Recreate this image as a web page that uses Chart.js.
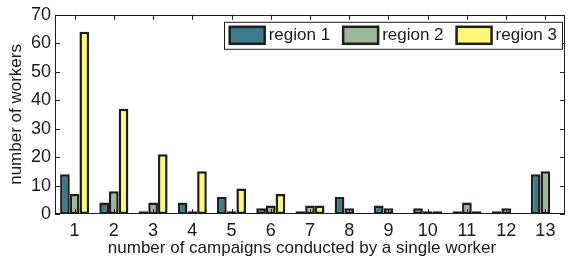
<!DOCTYPE html>
<html>
<head>
<meta charset="utf-8">
<script src="https://cdn.jsdelivr.net/npm/chart.js@4"></script>
<style>
  html, body { margin: 0; padding: 0; background: #fff; }
  #wrap { width: 568px; height: 257px; }
</style>
</head>
<body>
<div id="wrap"><canvas id="chart" width="568" height="257"></canvas></div>
<script>
// number of campaigns per worker
var categories = ["1", "2", "3", "4", "5", "6", "7", "8", "9", "10", "11", "12", "13"];
var region1 = [14, 4, 1, 4, 6, 2, 1, 6, 3, 2, 1, 1, 14];
var region2 = [7, 8, 4, 1, 1, 3, 3, 2, 2, 1, 4, 2, 15];
var region3 = [64, 37, 21, 15, 9, 7, 3, 0, 0, 1, 1, 0, 0];
var seriesNames = ["region 1", "region 2", "region 3"];
var yTicks = [0, 10, 20, 30, 40, 50, 60, 70];
var xTitle = "number of campaigns conducted by a single worker";

var colors = ["#3a7a8a", "#9bb996", "#fff67a"];
var edge = "#1e1e1e";
var font = "'Liberation Sans', Arial, Helvetica, sans-serif";

// box, inward ticks, x title and legend, drawn the matlab way
var framePlugin = {
    id: "frame",
    afterDraw: function(chart) {
        var ctx = chart.ctx;
        var a = chart.chartArea;
        var xs = chart.scales.x, ys = chart.scales.y;
        var t = 5;
        ctx.save();
        ctx.strokeStyle = edge;
        ctx.lineWidth = 1;
        ctx.beginPath();
        ys.ticks.forEach(function(tk) {
            var y = Math.round(ys.getPixelForValue(tk.value)) + 0.5;
            ctx.moveTo(a.left, y); ctx.lineTo(a.left + t, y);
            ctx.moveTo(a.right, y); ctx.lineTo(a.right - t, y);
        });
        categories.forEach(function(c, i) {
            var x = Math.round(xs.getPixelForValue(i)) + 0.5;
            ctx.moveTo(x, a.top); ctx.lineTo(x, a.top + t);
            ctx.moveTo(x, a.bottom); ctx.lineTo(x, a.bottom - t);
        });
        ctx.stroke();
        ctx.strokeRect(Math.round(a.left) + 0.5, Math.round(a.top) + 0.5,
                       Math.round(a.right - a.left) - 1, Math.round(a.bottom - a.top) - 1);

        // x title, a little left of the axes centre as in the figure
        ctx.font = "17px " + font;
        ctx.fillStyle = "#1a1a1a";
        ctx.textAlign = "center";
        ctx.textBaseline = "alphabetic";
        ctx.fillText(xTitle, (a.left + a.right) / 2 - 8, chart.height - 4);

        // legend
        ctx.textAlign = "left";
        var sw = 35, sh = 17, gap = 4, step = 13;
        var widths = seriesNames.map(function(n) { return ctx.measureText(n).width; });
        var total = 6;
        widths.forEach(function(w) { total += sw + gap + w + step; });
        total -= step - 5;
        var bx = a.right - 3 - total, by = a.top + 7, bh = 27;
        ctx.fillStyle = "#fff";
        ctx.fillRect(bx, by, total, bh);
        ctx.lineWidth = 1;
        ctx.strokeStyle = edge;
        ctx.strokeRect(Math.round(bx) + 0.5, by + 0.5, Math.round(total), bh);
        var x = bx + 6;
        ctx.textBaseline = "middle";
        seriesNames.forEach(function(n, i) {
            ctx.fillStyle = colors[i];
            ctx.fillRect(x, by + 5, sw, sh);
            ctx.lineWidth = 2.5;
            ctx.strokeStyle = edge;
            ctx.strokeRect(x, by + 5, sw, sh);
            ctx.fillStyle = "#1a1a1a";
            ctx.fillText(n, x + sw + gap, by + 14);
            x += sw + gap + widths[i] + step;
        });
        ctx.restore();
    }
};

var seriesValues = [region1, region2, region3];

new Chart(document.getElementById("chart"), {
    type: "bar",
    data: {
        labels: categories,
        datasets: seriesValues.map(function(v, i) {
            return {
                label: seriesNames[i],
                data: v,
                backgroundColor: colors[i],
                borderColor: edge,
                borderWidth: 2.5,
                borderSkipped: false,
                categoryPercentage: 0.74,
                barPercentage: 1.0
            };
        })
    },
    options: {
        responsive: false,
        animation: false,
        devicePixelRatio: 1,
        layout: { padding: { top: 14, right: 3, left: 0, bottom: 0 } },
        plugins: { legend: { display: false }, tooltip: { enabled: false } },
        scales: {
            x: {
                grid: { display: false, drawTicks: false },
                border: { display: false },
                ticks: { color: "#1a1a1a", font: { family: font, size: 18 }, padding: 6, maxRotation: 0 },
                afterFit: function(s) { s.height = 43; }
            },
            y: {
                min: 0,
                max: 70,
                afterBuildTicks: function(s) { s.ticks = yTicks.map(function(v) { return { value: v }; }); },
                grid: { display: false, drawTicks: false },
                border: { display: false },
                ticks: { color: "#1a1a1a", font: { family: font, size: 18 }, padding: 4 },
                title: {
                    display: true,
                    text: "number of workers",
                    color: "#1a1a1a",
                    font: { family: font, size: 17, lineHeight: 1 },
                    padding: { top: 8, bottom: 0 }
                },
                afterFit: function(s) { s.width = 55; }
            }
        }
    },
    plugins: [framePlugin]
});
</script>
</body>
</html>
